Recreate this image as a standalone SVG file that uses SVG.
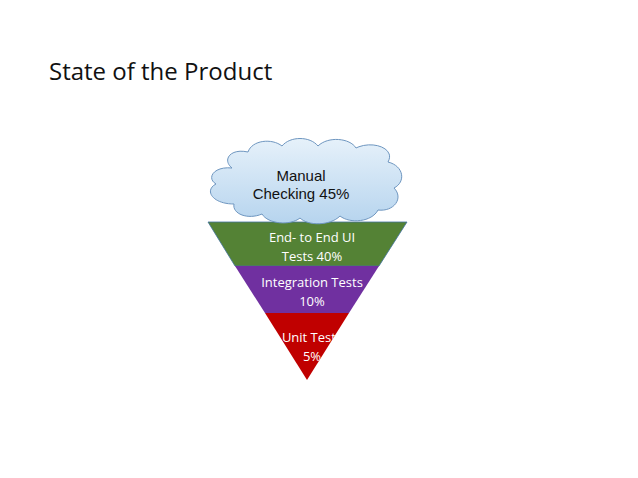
<svg xmlns="http://www.w3.org/2000/svg" width="638" height="478" viewBox="0 0 638 478">
<style>
.t{font-family:"Open Sans","Liberation Sans",sans-serif;fill:#fff;font-size:13px;text-anchor:middle}
.c{font-family:"Liberation Sans",sans-serif;fill:#111;font-size:15px;text-anchor:middle}
</style>
<defs>
<linearGradient id="g" x1="0" y1="0" x2="0" y2="1"><stop offset="0" stop-color="#e6f1fa"/><stop offset="1" stop-color="#b6d4ee"/></linearGradient>
<clipPath id="cg"><polygon points="208,222 407,222 379,266 235,266"/></clipPath>
<clipPath id="cp"><polygon points="235,266 379,266 349,313 265,313"/></clipPath>
<clipPath id="cr"><polygon points="265,313 349,313 307,380"/></clipPath>
</defs>
<rect width="638" height="478" fill="#fff"/>
<text x="49" y="80" style="font-family:'Open Sans','Liberation Sans',sans-serif;font-size:24px;fill:#111">State of the Product</text>
<g id="green"><polygon points="208,222 407,222 379,266 235,266" fill="#548235" stroke="#41719c" stroke-width="0.8"/>
<text class="t" clip-path="url(#cg)"><tspan x="312" y="242">End- to End UI</tspan><tspan x="312" y="261">Tests   40%</tspan></text></g>
<g id="purple"><polygon points="235,266 379,266 349,313 265,313" fill="#7030a0"/>
<text class="t" clip-path="url(#cp)"><tspan x="312" y="287">Integration Tests</tspan><tspan x="312" y="306">10%</tspan></text></g>
<g id="red"><polygon points="265,313 349,313 307,380" fill="#c00000"/>
<text class="t" clip-path="url(#cr)"><tspan x="312" y="342">Unit Tests</tspan><tspan x="312" y="361">5%</tspan></text></g>
<g id="cloud">
<path d="M232,168 C222,160 230,148 248,152 C252,140 272,138 282,146 C290,136 310,136 318,146 C328,136 350,138 356,148 C372,140 396,148 388,162 C404,166 406,182 394,188 C404,198 394,212 378,210 C372,222 350,224 340,216 C330,226 308,226 300,218 C290,226 268,224 262,214 C248,220 232,214 234,204 C212,204 204,190 216,184 C206,178 214,166 232,168 Z" fill="url(#g)" stroke="#6e96c0" stroke-width="1"/>
<text class="c"><tspan x="301" y="181">Manual</tspan><tspan x="301" y="199">Checking 45%</tspan></text></g>
</svg>
